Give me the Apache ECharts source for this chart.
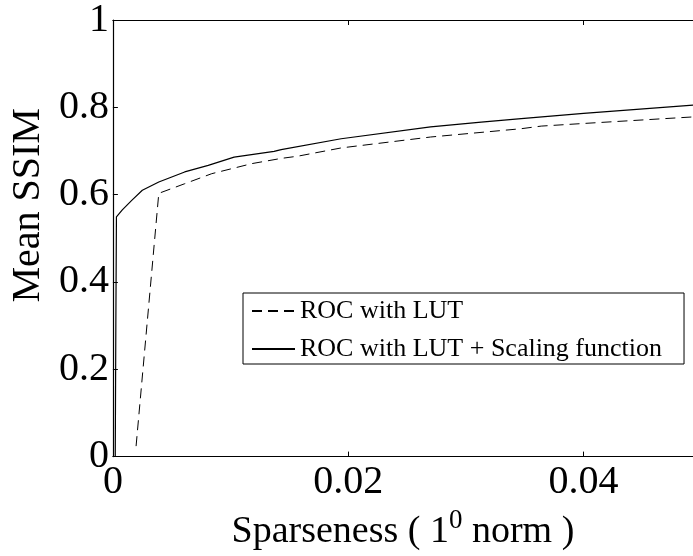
<!DOCTYPE html>
<html><head><meta charset="utf-8">
<script src="https://cdn.jsdelivr.net/npm/echarts@6/dist/echarts.min.js"></script>
<style>html,body{margin:0;padding:0;background:#fff}#c{width:693px;height:556px}</style>
</head><body><div id="c"></div>
<script>
const seriesNames = ['ROC with LUT', 'ROC with LUT + Scaling function'];
const lutData = [
  [0.00197, 0.024], [0.0039, 0.603], [0.0061, 0.625], [0.0084, 0.648], [0.0118, 0.671],
  [0.0143, 0.683], [0.0157, 0.688], [0.0194, 0.707], [0.027, 0.732], [0.0347, 0.751],
  [0.0364, 0.757], [0.040, 0.763], [0.0493, 0.778]
];
const scalingData = [
  [0.0002, 0], [0.00025, 0.30], [0.0003, 0.549], [0.0008, 0.565], [0.0016, 0.587],
  [0.0025, 0.61], [0.0039, 0.629], [0.0061, 0.652], [0.0081, 0.667], [0.0103, 0.686],
  [0.0137, 0.699], [0.0143, 0.703], [0.0194, 0.728], [0.027, 0.755], [0.0313, 0.766],
  [0.0347, 0.774], [0.040, 0.786], [0.0493, 0.805]
];
const xMax = 0.0493;
const xInterval = 0.02;
const yInterval = 0.2;

const FONT = 'Liberation Serif';
const chart = echarts.init(document.getElementById('c'), null, {renderer: 'canvas'});
const axisLine = {show: true, lineStyle: {color: '#000', width: 1.2}};
chart.setOption({
  animation: false,
  backgroundColor: '#fff',
  grid: {left: 111, right: 0, top: 20, bottom: 99, containLabel: false},
  legend: {
    orient: 'vertical', left: 243, top: 293,
    padding: [5, 22, 2, 8], itemGap: 12,
    itemWidth: 43, itemHeight: 14,
    borderColor: '#000', borderWidth: 1, borderRadius: 0,
    itemStyle: {opacity: 0},
    textStyle: {fontFamily: FONT, fontSize: 26, color: '#000'},
    data: seriesNames
  },
  xAxis: [{
    type: 'value', min: 0, max: xMax, interval: xInterval, position: 'bottom',
    axisLine: axisLine,
    axisTick: {show: true, inside: true, length: 5, lineStyle: {color: '#000'}},
    splitLine: {show: false},
    axisLabel: {fontFamily: FONT, fontSize: 40, color: '#000', margin: 6, showMaxLabel: false},
    name: '{a|Sparseness ( 1}{s|0}{a| norm )}',
    nameLocation: 'middle', nameGap: 50,
    nameTextStyle: {
      rich: {
        a: {fontFamily: FONT, fontSize: 38, color: '#000'},
        s: {fontFamily: FONT, fontSize: 27, color: '#000', padding: [0, 0, 22, 0]}
      }
    }
  }, {
    type: 'value', min: 0, max: xMax, interval: xInterval, position: 'top',
    axisLine: axisLine,
    axisTick: {show: true, inside: true, length: 5, lineStyle: {color: '#000'}},
    axisLabel: {show: false}, splitLine: {show: false}
  }],
  yAxis: [{
    type: 'value', min: 0, max: 1, interval: yInterval,
    axisLine: axisLine,
    axisTick: {show: true, inside: true, length: 5, lineStyle: {color: '#000'}},
    splitLine: {show: false},
    axisLabel: {fontFamily: FONT, fontSize: 40, color: '#000', margin: 4},
    name: 'Mean SSIM', nameLocation: 'middle', nameGap: 64,
    nameTextStyle: {fontFamily: FONT, fontSize: 40, color: '#000', padding: [0, 0, 0, 66]}
  }],
  series: [{
    name: seriesNames[0], type: 'line', xAxisIndex: 0, data: lutData,
    symbol: 'none', lineStyle: {color: '#000', width: 1, type: [10, 6]}, itemStyle: {color: '#000'}
  }, {
    name: seriesNames[1], type: 'line', xAxisIndex: 0, data: scalingData,
    symbol: 'none', lineStyle: {color: '#000', width: 1.2, type: 'solid'}, itemStyle: {color: '#000'}
  }]
});
</script></body></html>
